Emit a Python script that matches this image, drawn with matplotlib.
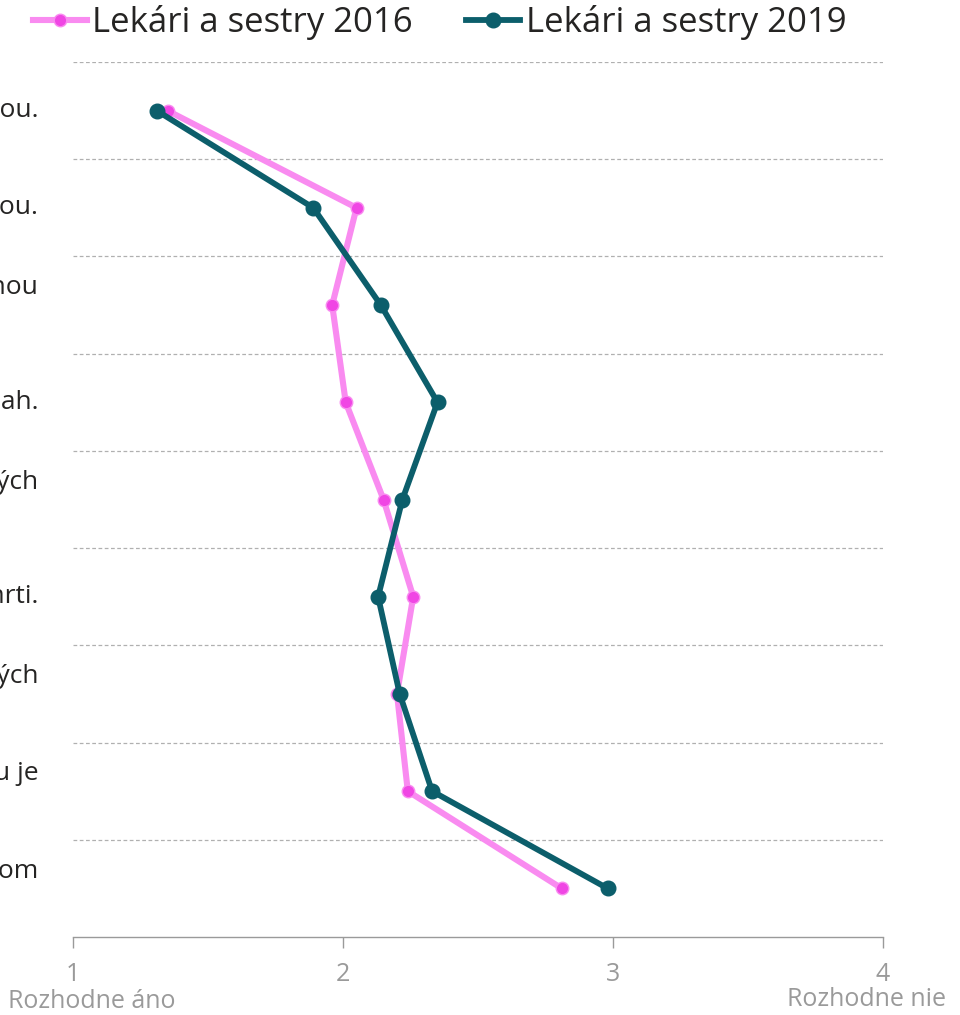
import matplotlib.pyplot as plt

# Výroky z dotazníka (dlhé výroky sú zalomené do dvoch riadkov)
vyroky = [
    "Neformálne platby sú v slovenskom zdravotníctve bežnou praxou.",
    "Pacienti dávajú dary lekárom a sestrám z vlastnej vôle, nie pod hrozbou.",
    "Lekári a sestry by mali byť za svoju prácu odmenení primeranou\nmzdou.",
    "Pacient by mal vopred poznať liečebný postup a jeho rozsah.",
    "Prijímanie darov je rozšírené najmä v nemocničných\nzariadeniach.",
    "Lekár je povinný starať sa o pacienta až do jeho smrti.",
    "Za neformálne platby sú zodpovední najmä pacienti z rizikových\nskupín.",
    "Dať lekárovi malú pozornosť po skončení liečby podľa môjho názoru je\nprijateľné.",
    "Neformálne platby by sa mali trestať rovnako ako úplatky v bežnom\nživote.",
]

# Priemerné hodnoty na škále 1 (rozhodne áno) až 4 (rozhodne nie)
hodnoty_2016 = [1.35, 2.05, 1.96, 2.01, 2.15, 2.26, 2.20, 2.24, 2.81]
hodnoty_2019 = [1.31, 1.89, 2.14, 2.35, 2.22, 2.13, 2.21, 2.33, 2.98]

x_ticks = [1, 2, 3, 4]

ruzova_ciara = '#F98BF0'
ruzova_bod = '#F046E4'
tyrkys = '#0C5E6B'
seda = '#9a9a9a'
text_farba = '#252423'

plt.rcParams['font.family'] = ['Open Sans', 'DejaVu Sans']

fig = plt.figure(figsize=(9.6, 10.15), dpi=100)
ax = fig.add_axes([73 / 960, 1 - 937 / 1015, 810 / 960, 875 / 1015])

poz = list(range(len(vyroky)))

ax.plot(hodnoty_2016, poz, color=ruzova_ciara, lw=4.4, marker='o', ms=9,
        mfc=ruzova_bod, mec=ruzova_ciara, mew=1, label='Lekári a sestry 2016', zorder=3)
ax.plot(hodnoty_2019, poz, color=tyrkys, lw=4.2, marker='o', ms=10.5,
        mfc=tyrkys, mec=tyrkys, label='Lekári a sestry 2019', zorder=4)

ax.set_xlim(1, 4)
ax.set_ylim(len(vyroky) - 0.5, -0.5)

# prerušované čiary medzi výrokmi
for h in [p - 0.5 for p in poz]:
    ax.axhline(h, color='#b0b0b0', lw=0.9, ls=(0, (3, 2)), zorder=1)

ax.set_yticks(poz)
ax.set_yticklabels(vyroky, fontsize=19, color=text_farba,
                   multialignment='left', linespacing=1.5, va='center')
ax.tick_params(axis='y', length=0, pad=25)

ax.set_xticks(x_ticks)
ax.set_xticklabels([str(t) for t in x_ticks], fontsize=18, color=seda)
ax.tick_params(axis='x', length=8, width=1, color=seda, pad=10)

for s in ['top', 'right', 'left']:
    ax.spines[s].set_visible(False)
ax.spines['bottom'].set_color(seda)
ax.spines['bottom'].set_linewidth(1)

fig.text(8 / 960, 1 - 1001 / 1015, 'Rozhodne áno', fontsize=18, color=seda,
         ha='left', va='center')
fig.text(946 / 960, 1 - 999 / 1015, 'Rozhodne nie', fontsize=18, color=seda,
         ha='right', va='center')

fig.legend(loc='center left', bbox_to_anchor=(33 / 960, 1 - 23 / 1015), ncol=2,
           frameon=False, fontsize=25, handlelength=1.55, handletextpad=0.15,
           columnspacing=1.55, labelcolor=text_farba, borderaxespad=0, borderpad=0)

fig.savefig('out.png', dpi=100)
